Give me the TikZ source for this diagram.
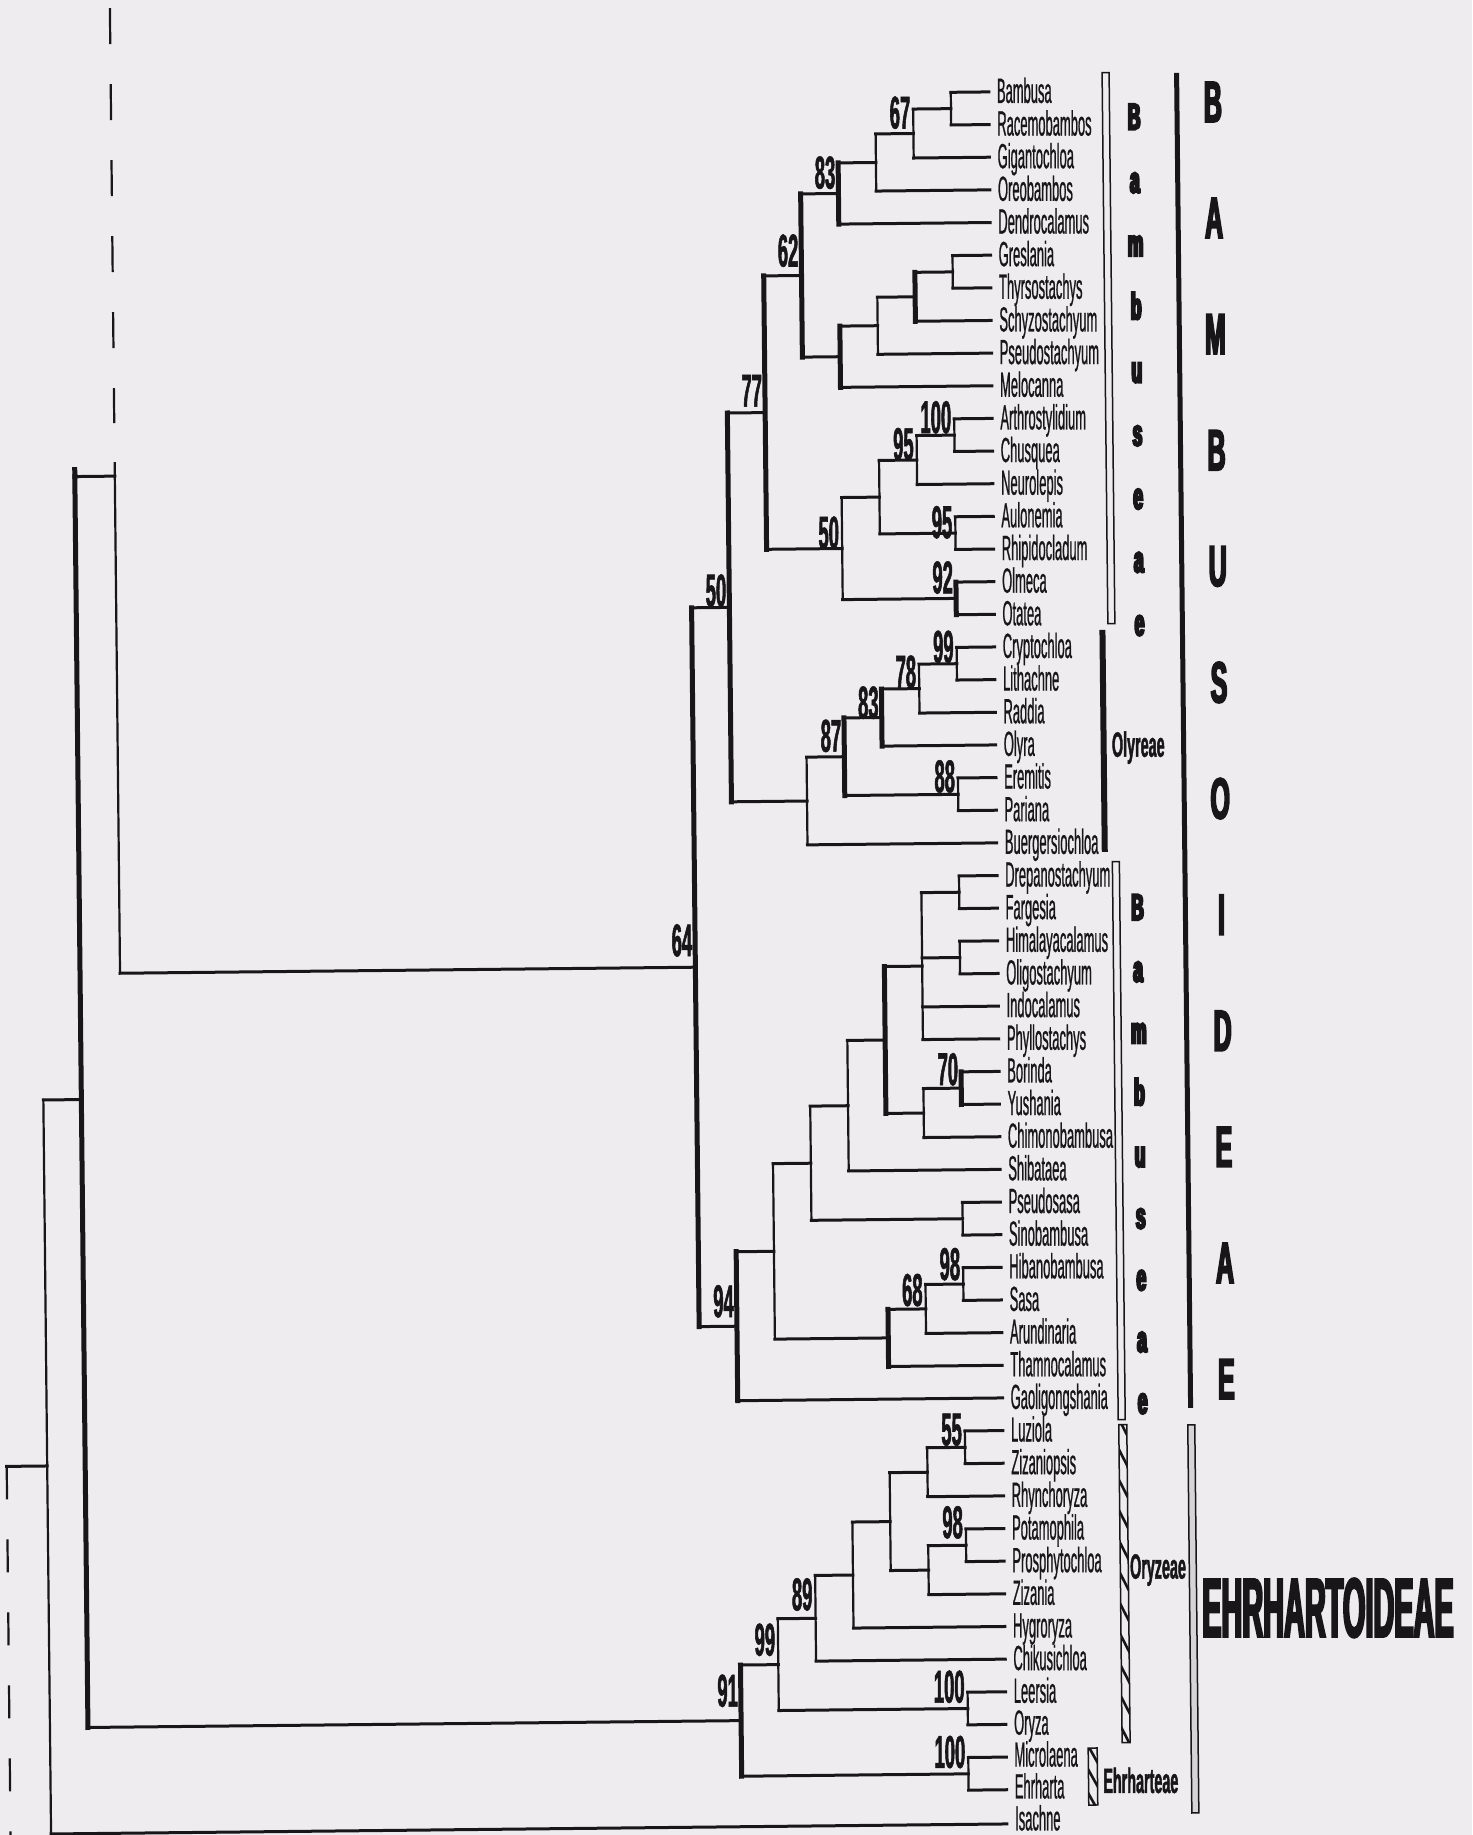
\documentclass[tikz,border=0pt]{standalone}
\usepackage{fontspec}
\setmainfont{Liberation Sans}
\newfontfamily\taxfont{Liberation Sans}[FakeStretch=0.37,FakeBold=0.6]
\newfontfamily\bsfont{Liberation Sans}[FakeStretch=0.40,FakeBold=1.2]
\newfontfamily\tribefont{Liberation Sans}[FakeStretch=0.41,FakeBold=1.2]
\newfontfamily\letfont{Liberation Sans}[FakeStretch=0.47,FakeBold=6]
\newfontfamily\bigfont{Liberation Sans}[FakeStretch=0.43,FakeBold=3]
\newfontfamily\ehrfont{Liberation Sans}[FakeStretch=0.344,FakeBold=2.5]
\definecolor{ink}{RGB}{24,22,24}
\definecolor{bgc}{RGB}{239,236,239}
\definecolor{barfill}{RGB}{214,212,214}
% clade: vertical at parent from first to last child, plus both horizontals
\newcommand\tclade[4][vthin]{%
  \draw[#1] (#2 |- #3) -- (#2 |- #4);
  \draw[hz] (#2 |- #3) -- (#3);
  \draw[hz] (#2 |- #4) -- (#4);}
\newcommand\tbr[2]{\draw[hz] (#1 |- #2) -- (#2);}
\newcommand\bsl[3]{\node[bsn,yshift=#3pt] (b#1) at (#1) {#2};}
\begin{document}
\begin{tikzpicture}[x=1pt,y=-1pt,
  hz/.style={draw=ink,line width=3pt,line cap=rect},
  vthin/.style={draw=ink,line width=2.2pt,line cap=rect},
  vthick/.style={draw=ink,line width=5pt,line cap=rect},
  taxon/.style={anchor=base west,inner sep=0pt,xshift=8pt,yshift=-11pt,text=ink,font=\taxfont\fontsize{35}{40}\selectfont},
  bsn/.style={anchor=base east,inner sep=0pt,xshift=-3pt,text=ink,font=\bsfont\bfseries\fontsize{46}{50}\selectfont},
  tribe/.style={anchor=base west,inner sep=0pt,text=ink,font=\tribefont\bfseries\fontsize{35}{40}\selectfont},
  vlet/.style={anchor=base,inner sep=0pt,text=ink,font=\letfont\bfseries\fontsize{37}{40}\selectfont},
  biglet/.style={anchor=center,inner sep=0pt,text=ink,font=\bigfont\bfseries\fontsize{58}{60}\selectfont},
  openbar/.style={draw=ink,line width=1.5pt},
  hatch/.style={draw=ink,line width=2.6pt}]
\useasboundingbox (0,0) rectangle (1472,1835);
\fill[bgc] (0,0) rectangle (1472,1835);
\begin{scope}[xshift=-10.08pt,yshift=-10.395pt,xslant=-0.0105,yslant=0.0105]
% ---------------- taxa ----------------
\foreach \n [count=\i] in {Bambusa,Racemobambos,Gigantochloa,Oreobambos,Dendrocalamus,Greslania,Thyrsostachys,Schyzostachyum,Pseudostachyum,Melocanna,Arthrostylidium,Chusquea,Neurolepis,Aulonemia,Rhipidocladum,Olmeca,Otatea,Cryptochloa,Lithachne,Raddia,Olyra,Eremitis,Pariana,Buergersiochloa,Drepanostachyum,Fargesia,Himalayacalamus,Oligostachyum,Indocalamus,Phyllostachys,Borinda,Yushania,Chimonobambusa,Shibataea,Pseudosasa,Sinobambusa,Hibanobambusa,Sasa,Arundinaria,Thamnocalamus,Gaoligongshania,Luziola,Zizaniopsis,Rhynchoryza,Potamophila,Prosphytochloa,Zizania,Hygroryza,Chikusichloa,Leersia}{
  \coordinate (\n) at (998,{92+(\i-1)*32.65});
  \node[taxon] (l\n) at (\n) {\n};
}
\coordinate (Oryza) at (998,1724.5);
\node[taxon,yshift=0.75pt] (lOryza) at (Oryza) {Oryza};
\coordinate (Microlaena) at (998,1757.15);
\node[taxon,yshift=1.5pt] (lMicrolaena) at (Microlaena) {Microlaena};
\coordinate (Ehrharta) at (998,1789.8);
\node[taxon,yshift=2.25pt] (lEhrharta) at (Ehrharta) {Ehrharta};
\coordinate (Isachne) at (998,1824);
\node[taxon,yshift=4.55pt] (lIsachne) at (Isachne) {Isachne};
% ---------------- internal nodes ----------------
\coordinate (nBR) at (960,108.33);
\coordinate (n67) at (922.2,132.8);
\coordinate (n67O) at (884.4,161.4);
\coordinate (n83) at (846.6,192.0);
\coordinate (nGT) at (960,271.6);
\coordinate (nGTS) at (922.2,296.1);
\coordinate (nGTSP) at (884.4,324.6);
\coordinate (nMel) at (846.6,355.2);
\coordinate (n62) at (808.8,273.6);
\coordinate (nAC) at (960,434.8);
\coordinate (n95a) at (922.2,459.3);
\coordinate (nAR) at (960,532.8);
\coordinate (n95AR) at (884.4,496.0);
\coordinate (nOO) at (960,598.1);
\coordinate (n50i) at (846.6,547.0);
\coordinate (n77) at (771,410.3);
\coordinate (nCL) at (960,663.4);
\coordinate (n78) at (922.2,687.9);
\coordinate (n83o) at (884.4,716.4);
\coordinate (nEP) at (960,794.0);
\coordinate (n87) at (846.6,755.2);
\coordinate (nOly) at (808.8,799.1);
\coordinate (n50o) at (733.2,604.7);
\coordinate (nDF) at (960,891.9);
\coordinate (nHO) at (960,957.2);
\coordinate (nPoly) at (922.2,965.4);
\coordinate (nBY) at (960,1087.8);
\coordinate (nBYC) at (922.2,1112.3);
\coordinate (nBig) at (884.4,1038.9);
\coordinate (nShib) at (846.6,1104.2);
\coordinate (nPS) at (960,1218.4);
\coordinate (nPSS) at (808.8,1161.3);
\coordinate (nHS) at (960,1283.7);
\coordinate (n68) at (922.2,1308.2);
\coordinate (nTh) at (884.4,1336.8);
\coordinate (nComb) at (771,1249.0);
\coordinate (n94) at (733.2,1323.5);
\coordinate (n64) at (695.4,964.1);
\coordinate (n55) at (960,1447.0);
\coordinate (nRh) at (922.2,1471.5);
\coordinate (n98) at (960,1544.9);
\coordinate (nZi) at (922.2,1569.4);
\coordinate (nL2) at (884.4,1520.5);
\coordinate (nHy) at (846.6,1573.5);
\coordinate (n89) at (808.8,1616.4);
\coordinate (n100L) at (960,1708.2);
\coordinate (n99) at (771,1662.3);
\coordinate (n100M) at (960,1773.5);
\coordinate (n91) at (733.2,1717.9);
\coordinate (nN1) at (120,467);
\coordinate (n1top) at (120,454);
\coordinate (n1dash) at (120,-1);
\coordinate (n1dashend) at (120,414);
\coordinate (nA) at (80,1090);
\coordinate (nAtop) at (80,460);
\coordinate (nB) at (42,1456);
\coordinate (nOut) at (1.5,1456);
\coordinate (nOutEnd) at (1.5,1850);
% ---------------- edges ----------------
\tclade{nBR}{Bambusa}{Racemobambos}
\tclade{n67}{nBR}{Gigantochloa}
\tclade{n67O}{n67}{Oreobambos}
\tclade[vthick]{n83}{n67O}{Dendrocalamus}
\tclade{nGT}{Greslania}{Thyrsostachys}
\tclade[vthick]{nGTS}{nGT}{Schyzostachyum}
\tclade{nGTSP}{nGTS}{Pseudostachyum}
\tclade[vthick]{nMel}{nGTSP}{Melocanna}
\tclade[vthick]{n62}{n83}{nMel}
\tclade{nAC}{Arthrostylidium}{Chusquea}
\tclade{n95a}{nAC}{Neurolepis}
\tclade{nAR}{Aulonemia}{Rhipidocladum}
\tclade{n95AR}{n95a}{nAR}
\tclade[vthick]{nOO}{Olmeca}{Otatea}
\tclade{n50i}{n95AR}{nOO}
\tclade[vthick]{n77}{n62}{n50i}
\tclade{nCL}{Cryptochloa}{Lithachne}
\tclade{n78}{nCL}{Raddia}
\tclade[vthick]{n83o}{n78}{Olyra}
\tclade{nEP}{Eremitis}{Pariana}
\tclade[vthick]{n87}{n83o}{nEP}
\tclade{nOly}{n87}{Buergersiochloa}
\tclade[vthick]{n50o}{n77}{nOly}
\tclade{nDF}{Drepanostachyum}{Fargesia}
\tclade{nHO}{Himalayacalamus}{Oligostachyum}
\tclade{nPoly}{nDF}{Phyllostachys}
\tbr{nPoly}{nHO}
\tbr{nPoly}{Indocalamus}
\tclade[vthick]{nBY}{Borinda}{Yushania}
\tclade{nBYC}{nBY}{Chimonobambusa}
\tclade[vthick]{nBig}{nPoly}{nBYC}
\tclade{nShib}{nBig}{Shibataea}
\tclade{nPS}{Pseudosasa}{Sinobambusa}
\tclade{nPSS}{nShib}{nPS}
\tclade{nHS}{Hibanobambusa}{Sasa}
\tclade{n68}{nHS}{Arundinaria}
\tclade[vthick]{nTh}{n68}{Thamnocalamus}
\tclade{nComb}{nPSS}{nTh}
\tclade[vthick]{n94}{nComb}{Gaoligongshania}
\tclade[vthick]{n64}{n50o}{n94}
\tclade{n55}{Luziola}{Zizaniopsis}
\tclade{nRh}{n55}{Rhynchoryza}
\tclade{n98}{Potamophila}{Prosphytochloa}
\tclade{nZi}{n98}{Zizania}
\tclade{nL2}{nRh}{nZi}
\tclade{nHy}{nL2}{Hygroryza}
\tclade{n89}{nHy}{Chikusichloa}
\tclade{n100L}{Leersia}{Oryza}
\tclade{n99}{n89}{n100L}
\tclade{n100M}{Microlaena}{Ehrharta}
\tclade[vthick]{n91}{n99}{n100M}
% root region
\draw[vthin] (n1top) -- (nN1 |- n64);
\draw[hz] (nN1 |- n64) -- (n64);
\draw[draw=ink,line width=2.2pt,dash pattern=on 36pt off 40pt] (n1dash) -- (n1dashend);
\tclade[vthick]{nA}{nN1}{n91}
\draw[vthick] (nAtop) -- (nA |- nN1);
\tclade{nB}{nA}{Isachne}
\draw[hz] (nB) -- (nOut);
\draw[draw=ink,line width=2.2pt,dash pattern=on 33pt off 40pt] (nOut) -- (nOutEnd);
% ---------------- bootstrap values ----------------
\bsl{n67}{67}{5}
\bsl{n83}{83}{5}
\bsl{n62}{62}{9}
\bsl{n77}{77}{6}
\bsl{nAC}{100}{2}
\bsl{n95a}{95}{0}
\bsl{nAR}{95}{-5}
\bsl{nOO}{92}{5}
\bsl{n50i}{50}{0}
\bsl{n50o}{50}{1}
\bsl{nCL}{99}{1}
\bsl{n78}{78}{1}
\bsl{n83o}{83}{-1}
\bsl{n87}{87}{5}
\bsl{nEP}{88}{2}
\bsl{n64}{64}{11}
\bsl{nBY}{70}{3}
\bsl{nHS}{98}{4}
\bsl{n68}{68}{3}
\bsl{n94}{94}{9}
\bsl{n55}{55}{2}
\bsl{n98}{98}{7}
\bsl{n89}{89}{8}
\bsl{n99}{99}{9}
\bsl{n100L}{100}{6}
\bsl{n91}{91}{14}
\bsl{n100M}{100}{6}
% ---------------- group bars ----------------
\draw[openbar] (1111.5,74) rectangle (1118.5,625);
\fill[ink] (1103,631) rectangle (1109,853);
\draw[openbar] (1113.5,863) rectangle (1120.5,1421);
\begin{scope}
  \clip (1114,1426) rectangle (1122,1744);
  \foreach \k in {0,...,10} \draw[hatch] (1113,{1418+\k*31}) -- (1123,{1438+\k*31});
\end{scope}
\draw[openbar] (1114,1426) rectangle (1122,1744);
\begin{scope}
  \clip (1080,1749) rectangle (1089,1806);
  \foreach \k in {0,1,2} \draw[hatch] (1079,{1745+\k*24}) -- (1090,{1765+\k*24});
\end{scope}
\draw[openbar] (1080,1749) rectangle (1089,1806);
\fill[ink] (1183.5,75) rectangle (1188.5,1410);
\draw[openbar,fill=barfill] (1183,1427) rectangle (1190,1815);
% ---------------- group labels ----------------
\foreach \c [count=\k from 0] in {B,a,m,b,u,s,e,a,e}
  \node[vlet] (bamA\k) at (1143,{131+\k*63.25}) {\c};
\foreach \c [count=\k from 0] in {B,a,m,b,u,s,e,a,e}
  \node[vlet] (bamB\k) at (1138,{921.5+\k*61.7}) {\c};
\node[tribe] (olyreae) at (1114,758) {Olyreae};
\node[tribe] (oryzeae) at (1123.5,1580) {Oryzeae};
\node[tribe] (ehrharteae) at (1094.5,1794) {Ehrharteae};
\foreach \c [count=\k from 0] in {B,A,M,B,U,S,O,I,D,E,A,E}
  \node[biglet] (bamb\k) at (1222,{104.4+\k*116.1}) {\c};
\node[anchor=base west,inner sep=0pt,text=ink,font=\ehrfont\bfseries\fontsize{84}{90}\selectfont] (ehrh) at (1195,1639) {EHRHARTOIDEAE};
\end{scope}
\end{tikzpicture}
\end{document}
